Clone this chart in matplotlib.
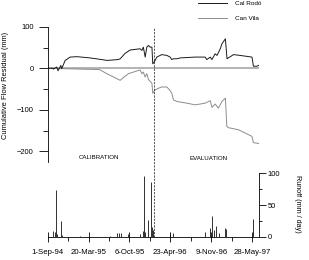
import numpy as np
import pandas as pd
import matplotlib
matplotlib.use('Agg')
import matplotlib.pyplot as plt

plt.rcParams['font.family'] = ['Liberation Sans', 'DejaVu Sans']

# days counted from 1-Sep-1994
start = np.datetime64('1994-09-01')
end = np.datetime64('1997-06-30')
split_date = np.datetime64('1996-02-01')

rodo_days = [0, 27, 28, 45, 51, 65, 69, 86, 110, 143, 208, 265, 290, 345, 355, 379, 403,
             452, 461, 468, 477, 485, 493, 501, 510, 514, 521, 534, 558, 583, 599, 607,
             615, 632, 648, 721, 770, 778, 795, 803, 819, 828, 844, 852, 869, 877, 909,
             941, 999, 1006, 1023, 1031]
rodo_resid = [0, 0, -2, 3, -6, 7, -1, 19, 27, 28, 25, 21, 19, 21, 23, 36, 44,
              47, 43, 51, 27, 51, 55, 51, 51, 11, 15, 27, 33, 31, 27, 21,
              23, 23, 25, 27, 27, 21, 27, 21, 35, 31, 47, 59, 71, 23, 33,
              31, 27, 5, 5, 7]

vila_days = [0, 253, 290, 355, 371, 395, 452, 461, 468, 477, 485, 493, 510, 514, 526,
             542, 558, 583, 596, 607, 615, 632, 681, 721, 746, 770, 795, 803, 819, 835,
             852, 869, 876, 884, 933, 999, 1006, 1031]
vila_resid = [0, -3, -13, -29, -22, -13, -4, -13, -9, -21, -13, -27, -36, -60, -52,
              -48, -45, -45, -52, -60, -76, -80, -84, -88, -86, -84, -78, -94, -86, -96,
              -80, -72, -140, -143, -148, -164, -179, -181]

runoff_days = [28, 34, 40, 46, 66, 71, 159, 306, 340, 350, 360, 394, 452, 466, 470, 477,
               493, 505, 512, 517, 596, 615, 770, 795, 803, 814, 824, 840, 869, 874, 1003]
runoff = [9, 8, 73, 5, 25, 3, 2, 2, 6, 7, 6, 4, 5, 10, 95, 8,
          27, 86, 15, 11, 7, 6, 8, 14, 33, 11, 17, 6, 14, 12, 28]

tick_labels = ['1-Sep-94', '20-Mar-95', '6-Oct-95', '23-Apr-96', '9-Nov-96', '28-May-97']


def to_dates(days):
    return start + np.array(days).astype('timedelta64[D]')


ticks = pd.to_datetime(tick_labels, format='%d-%b-%y')
minor = ticks[:-1] + (ticks[1:] - ticks[:-1]) / 2

fig = plt.figure(figsize=(3.09, 2.60), dpi=100)
ax1 = fig.add_axes([0.154, 0.378, 0.684, 0.519])
ax2 = fig.add_axes([0.154, 0.0885, 0.684, 0.246])

# top panel: cumulative residuals
ax1.axhline(0, color='#b3b3b3', lw=1.4, zorder=1)
l1, = ax1.plot(to_dates(rodo_days), rodo_resid, color='#1a1a1a', lw=0.7, label='Cal Rodó', zorder=3)
l2, = ax1.plot(to_dates(vila_days), vila_resid, color='#8c8c8c', lw=0.7, label='Can Vila', zorder=2)
ax1.set_xlim(start, end)
ax1.set_ylim(-225, 100)
ax1.set_yticks([100, 0, -100, -200])
ax1.set_yticks([50, -50, -150], minor=True)
ax1.set_xticks([])
for s in ['top', 'right', 'bottom']:
    ax1.spines[s].set_visible(False)
ax1.spines['left'].set_linewidth(0.6)
ax1.tick_params(axis='y', which='major', length=6.5, width=0.6, pad=3.5, labelsize=5.4)
ax1.tick_params(axis='y', which='minor', length=3.5, width=0.6)
ax1.patch.set_alpha(0)

ax1.axvline(split_date, ymin=-0.558, ymax=1, color='#333333', lw=0.6,
            ls=(0, (2.5, 1.5)), clip_on=False)

# bottom panel: runoff
ax2.vlines(to_dates(runoff_days), 0, runoff, color='#111111', lw=0.6)
ax2.set_xlim(start, end)
ax2.set_ylim(0, 100)
ax2.yaxis.tick_right()
ax2.set_yticks([0, 50, 100])
ax2.set_yticks([25, 75], minor=True)
ax2.set_xticks(ticks)
ax2.set_xticklabels(tick_labels)
ax2.set_xticks(minor, minor=True)
for s in ['top', 'left']:
    ax2.spines[s].set_visible(False)
ax2.spines['right'].set_linewidth(0.6)
ax2.spines['bottom'].set_linewidth(0.6)
ax2.tick_params(axis='y', which='major', length=4.8, width=0.6, pad=1.5, labelsize=5.4)
ax2.tick_params(axis='y', which='minor', length=2.4, width=0.6)
ax2.tick_params(axis='x', which='major', direction='inout', length=7, width=0.6, pad=5.5, labelsize=5.6)
ax2.tick_params(axis='x', which='minor', length=3, width=0.6)
ax2.patch.set_alpha(0)

fig.text(0.019, 0.67, 'Cumulative Flow Residual (mm)', rotation=90, ha='center', va='center', fontsize=5.4)
fig.text(0.964, 0.215, 'Runoff (mm / day)', rotation=270, ha='center', va='center', fontsize=5.2)
fig.text(0.320, 0.396, 'CALIBRATION', ha='center', va='center', fontsize=4.4)
fig.text(0.675, 0.392, 'EVALUATION', ha='center', va='center', fontsize=4.4)

fig.legend(handles=[l1, l2], loc='upper left', bbox_to_anchor=(0.641, 0.997),
           frameon=False, fontsize=4.6, handlelength=4.5, handletextpad=1.3,
           labelspacing=1.45, borderpad=0, borderaxespad=0)

fig.savefig('out.png', dpi=100)
